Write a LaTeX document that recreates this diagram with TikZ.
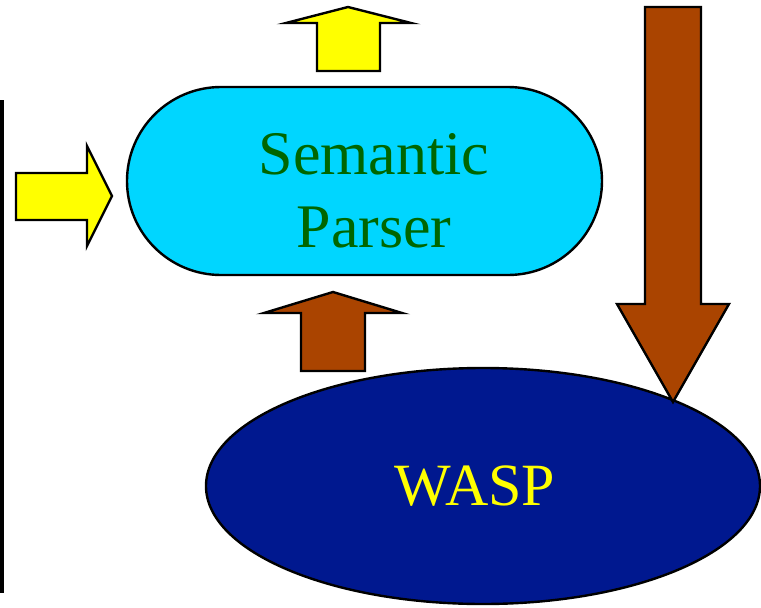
\documentclass[tikz,border=0pt]{standalone}
\usepackage{fontspec}
\setmainfont{Liberation Serif}
\usetikzlibrary{shapes.geometric,shapes.misc}

\definecolor{parserfill}{HTML}{00D6FF}
\definecolor{parsertext}{HTML}{006600}
\definecolor{waspfill}{HTML}{00188F}
\definecolor{arrowyellow}{HTML}{FFFF00}
\definecolor{arrowbrown}{HTML}{AA4400}

\tikzset{
  outline/.style={draw=black, line width=2.4pt, line join=miter},
  yellowblock/.style={outline, fill=arrowyellow},
  brownblock/.style={outline, fill=arrowbrown},
  bigtext/.style={font=\fontsize{62}{73}\selectfont, inner sep=0pt, align=center},
}

\begin{document}
\begin{tikzpicture}[x=1pt, y=-1pt]
  \useasboundingbox (0,0) rectangle (761,608);

  % left border rule
  \draw[line width=3.5pt] (2,100) -- (2,593);

  % WASP ellipse
  \node[ellipse, outline, fill=waspfill, minimum width=554pt, minimum height=236pt,
        inner sep=0pt] (wasp) at (483,486) {};
  \node[bigtext, font=\fontsize{60}{70}\selectfont, text=arrowyellow] (waspname) at (475,486) {WASP};

  % Semantic parser (stadium)
  \node[rounded rectangle, outline, fill=parserfill, minimum width=475pt,
        minimum height=188pt, inner sep=0pt] (parser) at (364.5,181) {};
  \node[bigtext, text=parsertext] (parsername) at (374,190.5) {Semantic\\Parser};

  % input arrow (yellow, pointing right)
  \draw[yellowblock] (16,173) -- (87,173) -- (87,146) -- (112,196) -- (87,246)
        -- (87,220) -- (16,220) -- cycle;

  % output arrow (yellow, pointing up)
  \draw[yellowblock] (317,71) -- (317,23) -- (286,23) -- (348,7) -- (411,23)
        -- (380,23) -- (380,71) -- cycle;

  % WASP produces the parser (brown, pointing up)
  \draw[brownblock] (301,371) -- (301,313) -- (264,313) -- (333,292) -- (402,313)
        -- (365,313) -- (365,371) -- cycle;

  % training data into WASP (brown, pointing down)
  \draw[brownblock] (645,7) -- (701,7) -- (701,304) -- (729,304) -- (673,402)
        -- (617,304) -- (645,304) -- cycle;
\end{tikzpicture}
\end{document}
